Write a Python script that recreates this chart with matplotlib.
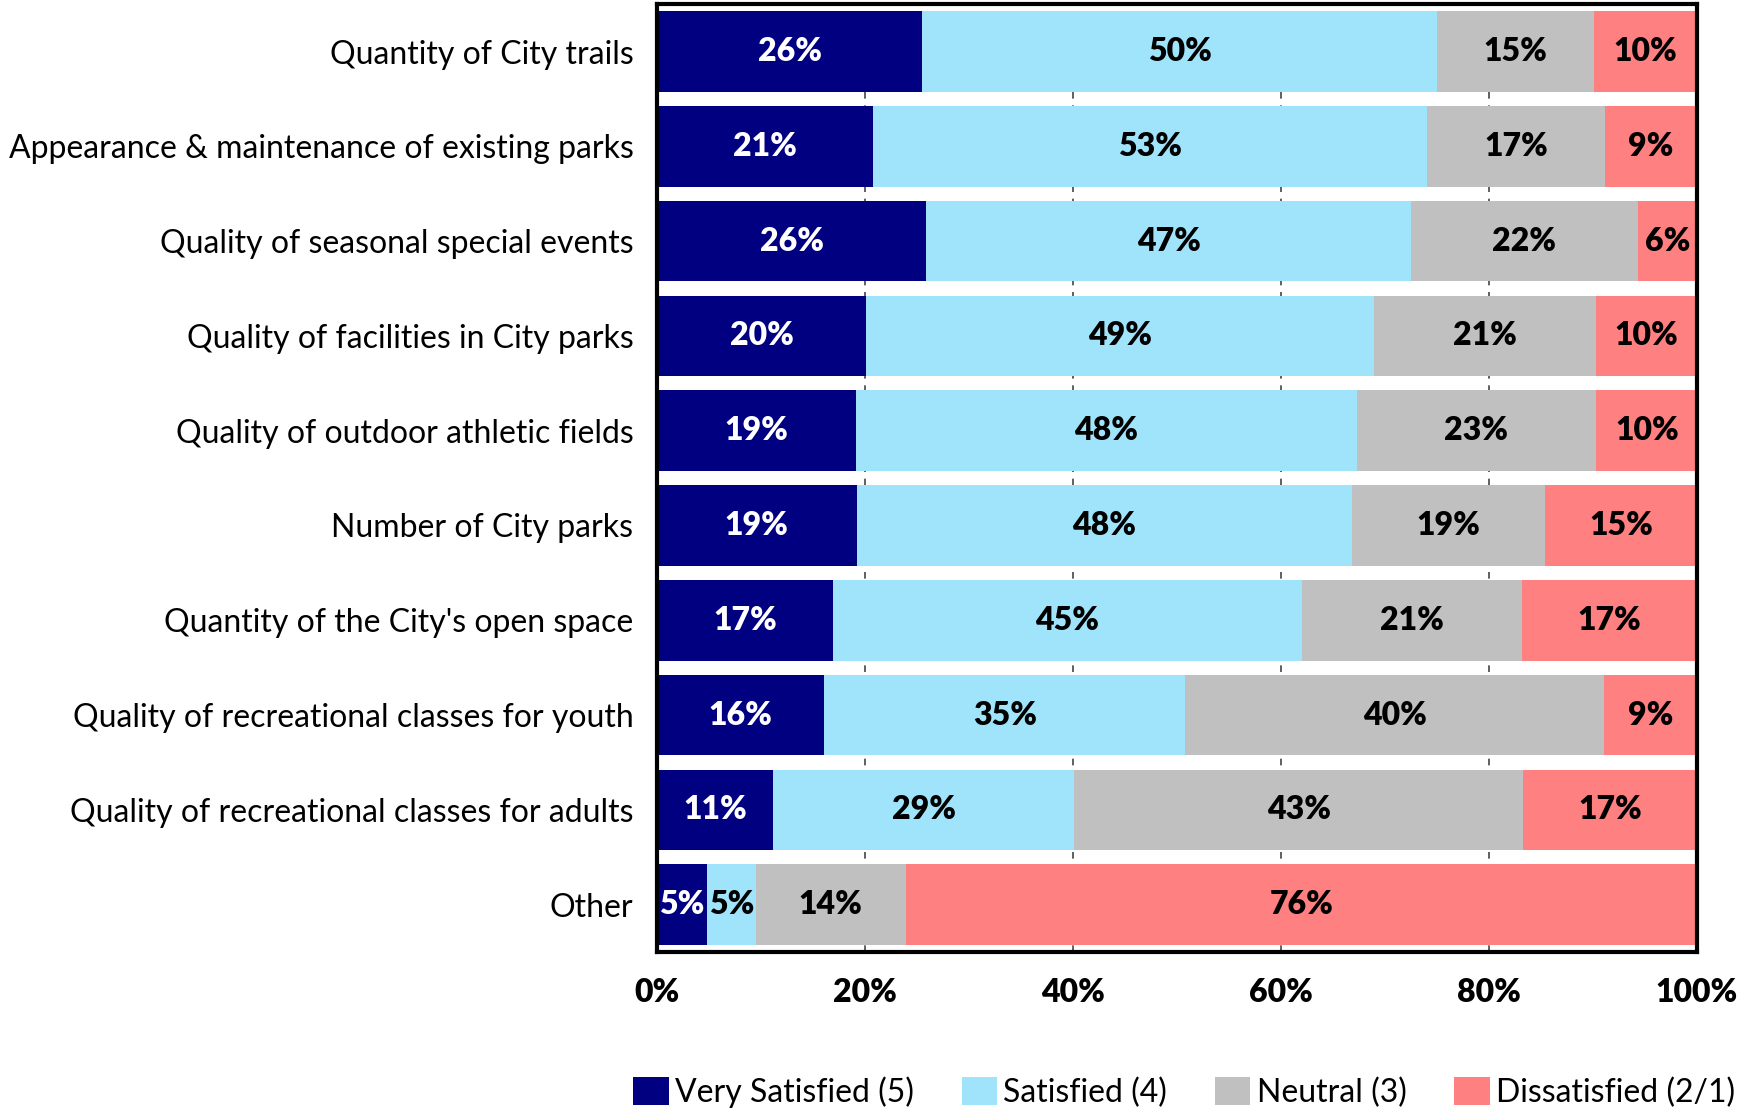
import numpy as np
import matplotlib.pyplot as plt
from matplotlib.ticker import PercentFormatter

plt.rcParams['font.family'] = ['Lato', 'DejaVu Sans']

# Survey items (top to bottom)
items = [
    "Quantity of City trails",
    "Appearance & maintenance of existing parks",
    "Quality of seasonal special events",
    "Quality of facilities in City parks",
    "Quality of outdoor athletic fields",
    "Number of City parks",
    "Quantity of the City's open space",
    "Quality of recreational classes for youth",
    "Quality of recreational classes for adults",
    "Other",
]

very_satisfied = [25.5, 20.8, 25.9, 20.1, 19.1, 19.2, 16.9, 16.1, 11.2, 4.8]
satisfied = [49.5, 53.2, 46.6, 48.8, 48.2, 47.6, 45.1, 34.7, 28.9, 4.7]
neutral = [15.1, 17.2, 21.8, 21.4, 23.0, 18.6, 21.2, 40.3, 43.2, 14.4]
dissatisfied = [9.9, 8.8, 5.7, 9.7, 9.9, 14.6, 16.8, 8.9, 16.7, 76.1]

series = [very_satisfied, satisfied, neutral, dissatisfied]
names = ["Very Satisfied (5)", "Satisfied (4)", "Neutral (3)", "Dissatisfied (2/1)"]
colors = ["#000080", "#A0E4FC", "#C0C0C0", "#FF8080"]
text_colors = ["white", "black", "black", "black"]

fig = plt.figure(figsize=(17.39, 11.15), dpi=100)
ax = fig.add_axes([0.3778, 0.1462, 0.598, 0.850])

y = np.arange(len(items))
left = np.zeros(len(items))
for vals, name, col, tc in zip(series, names, colors, text_colors):
    vals = np.array(vals)
    ax.barh(y, vals, left=left, height=0.85, color=col, label=name, zorder=2,
            clip_on=False)
    for yy, l, v in zip(y, left, vals):
        ax.text(l + v / 2, yy, f"{v:.0f}%", ha="center", va="center",
                color=tc, fontsize=23, fontweight="heavy", zorder=3)
    left += vals

ax.set_xlim(0, 100)
ax.set_ylim(len(items) - 0.5, -0.5)
ax.set_yticks(y)
ax.set_yticklabels(items, fontsize=23)
ax.set_xticks(np.arange(0, 101, 20))
ax.xaxis.set_major_formatter(PercentFormatter(decimals=0))
for lbl in ax.get_xticklabels():
    lbl.set_fontweight("heavy")
    lbl.set_fontsize(23)
ax.tick_params(axis="x", length=0, pad=19)
ax.tick_params(axis="y", length=0, pad=17)

ax.grid(axis="x", color="#444444", linestyle=(0, (4, 4)), linewidth=1.2, zorder=1)
for s in ax.spines.values():
    s.set_linewidth(3)
    s.set_color("black")
    s.set_zorder(4)

ax.legend(loc="center", bbox_to_anchor=(0.507, -0.148), ncol=4, frameon=False,
          fontsize=23, handlelength=1.1, handleheight=1.0, handletextpad=0.2,
          columnspacing=1.5)

fig.savefig("out.png", dpi=100)
